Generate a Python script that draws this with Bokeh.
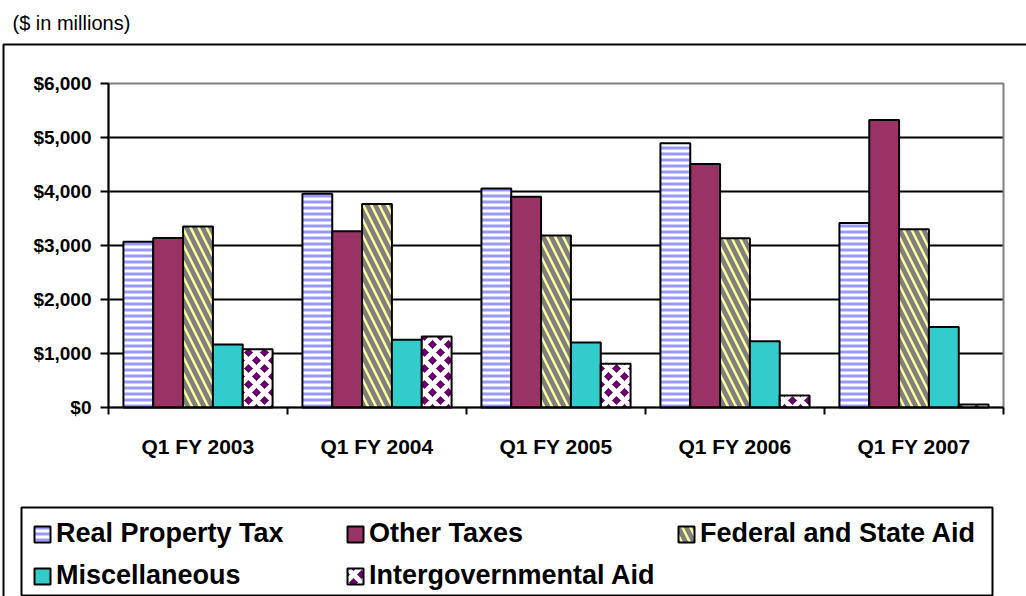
from bokeh.plotting import figure
from bokeh.models import (ColumnDataSource, Range1d, LinearAxis,
                          FixedTicker, NumeralTickFormatter, Legend, LegendItem, Label)
from bokeh.transform import dodge
from bokeh.embed import file_html
from bokeh.resources import INLINE

# ---------------- data ----------------
quarters = ["Q1 FY 2003", "Q1 FY 2004", "Q1 FY 2005", "Q1 FY 2006", "Q1 FY 2007"]
real_property_tax = [3070, 3960, 4055, 4895, 3415]
other_taxes = [3140, 3265, 3905, 4510, 5325]
federal_state_aid = [3350, 3770, 3185, 3135, 3300]
miscellaneous = [1165, 1255, 1205, 1225, 1490]
intergovernmental_aid = [1080, 1315, 810, 220, 55]
series_names = ["Real Property Tax", "Other Taxes", "Federal and State Aid",
                "Miscellaneous", "Intergovernmental Aid"]
y_ticks = [0, 1000, 2000, 3000, 4000, 5000, 6000]
subtitle = "($ in millions)"

FONT = "Liberation Sans"
W, H = 1026, 596
# plot-area placement on the canvas (pixels)
PA_L, PA_R, PA_T, PA_B = 108, 1003, 83, 407

n_cat = len(quarters)
centers = [i + 0.5 for i in range(n_cat)]      # category slot centres on a 0..n axis
boundaries = list(range(n_cat + 1))

ppx = (PA_R - PA_L) / n_cat
ppy = (PA_B - PA_T) / (y_ticks[-1] - y_ticks[0])
x_range = Range1d(0 - PA_L / ppx, n_cat + (W - PA_R) / ppx)
y_range = Range1d(y_ticks[0] - (H - PA_B) / ppy, y_ticks[-1] + PA_T / ppy)

source = ColumnDataSource(dict(
    xc=centers,
    rpt=real_property_tax,
    oth=other_taxes,
    fed=federal_state_aid,
    misc=miscellaneous,
    inter=intergovernmental_aid,
))
cols = ["rpt", "oth", "fed", "misc", "inter"]

p = figure(width=W, height=H, x_range=x_range, y_range=y_range,
           x_axis_type=None, y_axis_type=None,
           output_backend="svg", toolbar_location=None,
           min_border_left=0, min_border_right=0, min_border_top=0, min_border_bottom=0)
p.background_fill_color = "white"
p.border_fill_color = "white"
p.outline_line_color = None
p.grid.visible = False

# pixel coordinate system for the chart furniture
p.extra_x_ranges = {"px": Range1d(0, W)}
p.extra_y_ranges = {"px": Range1d(H, 0)}

# outer chart border (continues past the right and bottom edges)
p.quad(left=3, right=W + 60, top=44, bottom=H + 60, x_range_name="px", y_range_name="px",
       fill_color=None, line_color="black", line_width=2)

# horizontal gridlines
grid_src = ColumnDataSource(dict(y=y_ticks[1:-1]))
p.segment(x0=0, x1=n_cat, y0="y", y1="y", source=grid_src, line_color="black", line_width=2)

# plot-area border
p.quad(left=0, right=n_cat, bottom=y_ticks[0], top=y_ticks[-1], fill_color=None,
       line_color="#808080", line_width=2)

styles = [
    dict(fill_color="white", hatch_pattern="horizontal_line", hatch_color="#9999FF",
         hatch_scale=6, hatch_weight=3),
    dict(fill_color="#993366"),
    dict(fill_color="#808080", hatch_pattern="left_diagonal_line", hatch_color="#FFFF99",
         hatch_scale=16, hatch_weight=2.5),
    dict(fill_color="#33CCCC"),
    dict(fill_color="#660066", hatch_pattern="diagonal_cross", hatch_color="white",
         hatch_scale=16, hatch_weight=5),
]

n = len(cols)
bw = 1.0 / (n + 1)
renderers = []
for i, c in enumerate(cols):
    r = p.vbar(x=dodge("xc", (i - (n - 1) / 2) * bw), top=c,
               width=bw, source=source, line_color="black", line_width=2, **styles[i])
    renderers.append(r)

# y axis
yax = LinearAxis(fixed_location=0, bounds=(y_ticks[0], y_ticks[-1]),
                 ticker=FixedTicker(ticks=y_ticks),
                 formatter=NumeralTickFormatter(format="$0,0"),
                 major_label_text_font=FONT, major_label_text_font_size="19px",
                 major_label_text_font_style="bold", major_label_text_color="black",
                 axis_line_width=2, axis_line_color="black",
                 major_tick_in=0, major_tick_out=8, major_tick_line_width=2,
                 minor_tick_line_color=None, major_label_standoff=9)
p.add_layout(yax, "left")

# x axis: labels at slot centres, ticks at slot boundaries
xax = LinearAxis(fixed_location=0, bounds=(0, n_cat),
                 ticker=FixedTicker(ticks=centers, minor_ticks=boundaries),
                 major_label_overrides={c: q for c, q in zip(centers, quarters)},
                 axis_line_color="black", axis_line_width=2,
                 major_tick_line_color=None, major_tick_in=0, major_tick_out=0,
                 minor_tick_line_color="black", minor_tick_line_width=2,
                 minor_tick_in=0, minor_tick_out=7,
                 major_label_text_font=FONT, major_label_text_font_size="21px",
                 major_label_text_font_style="bold", major_label_text_color="black",
                 major_label_standoff=20)
p.add_layout(xax, "below")

# legend box
p.quad(left=21, right=992, top=507, bottom=595, x_range_name="px", y_range_name="px",
       fill_color="white", line_color="black", line_width=2)

def make_legend(items, loc):
    return Legend(items=items, location=loc, orientation="vertical",
                  label_text_font=FONT, label_text_font_size="27px",
                  label_text_font_style="bold", label_text_color="black",
                  glyph_width=20, glyph_height=20, label_standoff=4,
                  spacing=11, padding=0, margin=0,
                  border_line_color=None, background_fill_alpha=0)

lg1 = make_legend([LegendItem(label=series_names[0], renderers=[renderers[0]]),
                   LegendItem(label=series_names[3], renderers=[renderers[3]])], (32, 5))
lg2 = make_legend([LegendItem(label=series_names[1], renderers=[renderers[1]]),
                   LegendItem(label=series_names[4], renderers=[renderers[4]])], (345, 5))
lg3 = make_legend([LegendItem(label=series_names[2], renderers=[renderers[2]])], (676, 47))
for lg in (lg1, lg2, lg3):
    p.add_layout(lg)

p.add_layout(Label(x=12, y=22, x_range_name="px", y_range_name="px", text=subtitle,
                   text_font=FONT, text_font_size="20px", text_baseline="middle",
                   text_color="black"))

open("out.html", "w").write(file_html(p, INLINE))
